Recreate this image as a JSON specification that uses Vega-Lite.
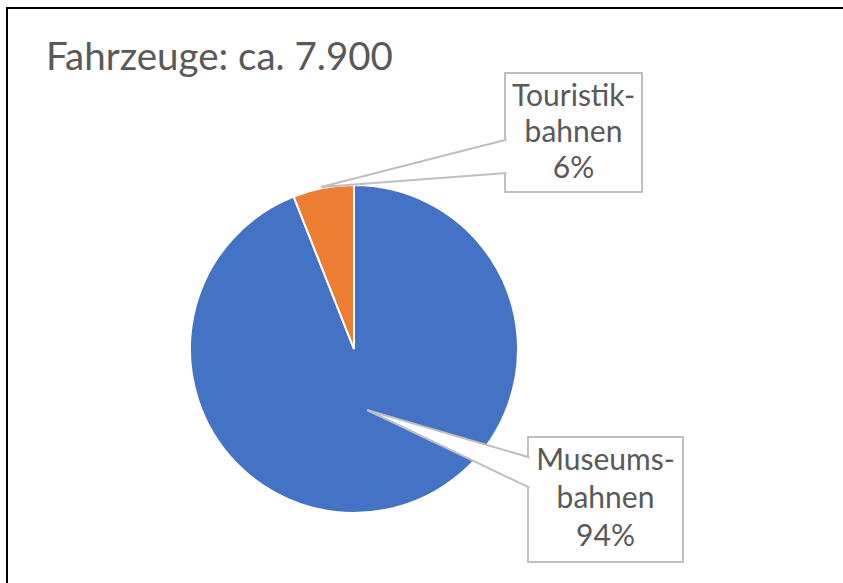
{
  "$schema": "https://vega.github.io/schema/vega-lite/v6.json",
  "width": 843,
  "height": 583,
  "padding": 0,
  "autosize": {"type": "none"},
  "background": "white",
  "config": {"view": {"stroke": null}, "font": "Lato"},
  "data": {
    "values": [
      {"Kategorie": "Museumsbahnen", "Anteil": 94, "Beschriftung": "Museums-\nbahnen\n94%"},
      {"Kategorie": "Touristikbahnen", "Anteil": 6, "Beschriftung": "Touristik-\nbahnen\n6%"}
    ]
  },
  "encoding": {
    "x": {"type": "quantitative", "scale": {"domain": [0, 843], "nice": false, "zero": false}, "axis": null},
    "y": {"type": "quantitative", "scale": {"domain": [0, 583], "nice": false, "zero": false, "reverse": true}, "axis": null}
  },
  "layer": [
    {
      "transform": [{"filter": "datum.Kategorie == 'Museumsbahnen'"}],
      "mark": {"type": "rule", "color": "black", "strokeWidth": 2},
      "encoding": {"x": {"datum": 7}, "y": {"datum": 7}, "y2": {"datum": 583}}
    },
    {
      "transform": [{"filter": "datum.Kategorie == 'Museumsbahnen'"}],
      "mark": {"type": "rule", "color": "black", "strokeWidth": 2},
      "encoding": {"x": {"datum": 6}, "x2": {"datum": 843}, "y": {"datum": 8}}
    },
    {
      "transform": [{"filter": "datum.Kategorie == 'Museumsbahnen'"}],
      "mark": {"type": "text", "text": "Fahrzeuge: ca. 7.900", "align": "left", "baseline": "alphabetic", "fontSize": 38.5, "color": "#595959"},
      "encoding": {"x": {"datum": 46}, "y": {"datum": 70}}
    },
    {
      "mark": {"type": "arc", "radius": 164, "stroke": "white", "strokeWidth": 2},
      "encoding": {
        "x": {"datum": 354},
        "y": {"datum": 349},
        "theta": {"field": "Anteil", "type": "quantitative", "stack": true},
        "order": {"field": "Kategorie", "sort": "ascending"},
        "color": {"field": "Kategorie", "type": "nominal", "scale": {"domain": ["Museumsbahnen", "Touristikbahnen"], "range": ["#4472C4", "#ED7D31"]}, "legend": null}
      }
    },
    {
      "transform": [{"filter": "datum.Kategorie == 'Touristikbahnen'"}],
      "mark": {"type": "rect", "fill": "white", "stroke": "#BFBFBF", "strokeWidth": 2},
      "encoding": {"x": {"datum": 505}, "x2": {"datum": 642}, "y": {"datum": 73}, "y2": {"datum": 192}}
    },
    {
      "transform": [{"filter": "datum.Kategorie == 'Touristikbahnen'"}],
      "mark": {"type": "arc", "radius": 192, "theta": 1.3207, "theta2": 1.4949, "fill": "white", "stroke": "#BFBFBF", "strokeWidth": 2},
      "encoding": {"x": {"datum": 321}, "y": {"datum": 187}}
    },
    {
      "transform": [{"filter": "datum.Kategorie == 'Touristikbahnen'"}],
      "mark": {"type": "rect", "fill": "white"},
      "encoding": {"x": {"datum": 506.5}, "x2": {"datum": 640.5}, "y": {"datum": 74.5}, "y2": {"datum": 190.5}}
    },
    {
      "transform": [{"filter": "datum.Kategorie == 'Touristikbahnen'"}],
      "mark": {"type": "text", "align": "center", "baseline": "alphabetic", "fontSize": 30, "lineBreak": "\n", "lineHeight": 36, "color": "#595959"},
      "encoding": {"x": {"datum": 573.5}, "y": {"datum": 106}, "text": {"field": "Beschriftung", "type": "nominal"}}
    },
    {
      "transform": [{"filter": "datum.Kategorie == 'Museumsbahnen'"}],
      "mark": {"type": "rect", "fill": "white", "stroke": "#BFBFBF", "strokeWidth": 2},
      "encoding": {"x": {"datum": 528}, "x2": {"datum": 683}, "y": {"datum": 437}, "y2": {"datum": 562}}
    },
    {
      "transform": [{"filter": "datum.Kategorie == 'Museumsbahnen'"}],
      "mark": {"type": "arc", "radius": 182, "theta": 1.8548, "theta2": 2.0167, "fill": "white", "stroke": "#BFBFBF", "strokeWidth": 2},
      "encoding": {"x": {"datum": 367}, "y": {"datum": 410}}
    },
    {
      "transform": [{"filter": "datum.Kategorie == 'Museumsbahnen'"}],
      "mark": {"type": "rect", "fill": "white"},
      "encoding": {"x": {"datum": 529.5}, "x2": {"datum": 681.5}, "y": {"datum": 438.5}, "y2": {"datum": 560.5}}
    },
    {
      "transform": [{"filter": "datum.Kategorie == 'Museumsbahnen'"}],
      "mark": {"type": "text", "align": "center", "baseline": "alphabetic", "fontSize": 30, "lineBreak": "\n", "lineHeight": 38, "color": "#595959"},
      "encoding": {"x": {"datum": 605.5}, "y": {"datum": 470}, "text": {"field": "Beschriftung", "type": "nominal"}}
    }
  ]
}
